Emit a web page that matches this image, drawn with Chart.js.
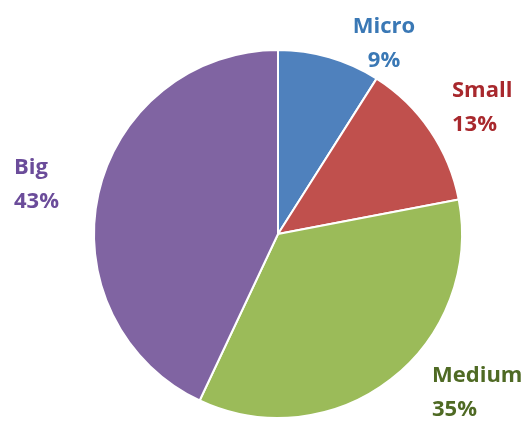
<!DOCTYPE html>
<html lang="en">
<head>
    <meta charset="UTF-8">
    <title>Company size pie</title>
    <script src="https://cdn.jsdelivr.net/npm/chart.js"></script>
    <style>
        html, body { margin: 0; padding: 0; background: #fff; }
        #wrap { width: 531px; height: 428px; }
    </style>
</head>
<body>
    <div id="wrap"><canvas id="pieChart"></canvas></div>

    <script>
        const categories = ['Micro', 'Small', 'Medium', 'Big'];
        const shares = [9, 13, 35, 43];

        const sliceColors = ['#4f81bd', '#c0504d', '#9bbb59', '#8064a2'];
        const labelColors = ['#3a78b5', '#a8282d', '#4f6a24', '#6b4c9a'];

        // where each two-line label sits (x, baseline of first line, alignment)
        const labelPlaces = [
            { x: 384, y: 33, align: 'center' },
            { x: 452, y: 97, align: 'left' },
            { x: 432, y: 382, align: 'left' },
            { x: 14, y: 174, align: 'left' }
        ];

        const outsideLabels = {
            id: 'outsideLabels',
            afterDraw(chart) {
                const ctx = chart.ctx;
                const data = chart.data.datasets[0].data;
                ctx.save();
                ctx.font = 'bold 22px "Open Sans"';
                ctx.textBaseline = 'alphabetic';
                chart.data.labels.forEach((name, i) => {
                    const p = labelPlaces[i];
                    ctx.fillStyle = labelColors[i];
                    ctx.textAlign = p.align;
                    ctx.fillText(name, p.x, p.y);
                    ctx.fillText(data[i] + '%', p.x, p.y + 34);
                });
                ctx.restore();
            }
        };

        new Chart(document.getElementById('pieChart').getContext('2d'), {
            type: 'pie',
            data: {
                labels: categories,
                datasets: [{
                    data: shares,
                    backgroundColor: sliceColors,
                    borderColor: '#ffffff',
                    borderWidth: 2
                }]
            },
            options: {
                responsive: true,
                maintainAspectRatio: false,
                animation: false,
                layout: {
                    padding: { left: 93, right: 68, top: 49, bottom: 9 }
                },
                plugins: {
                    legend: { display: false },
                    tooltip: { enabled: false }
                }
            },
            plugins: [outsideLabels]
        });
    </script>
</body>
</html>
